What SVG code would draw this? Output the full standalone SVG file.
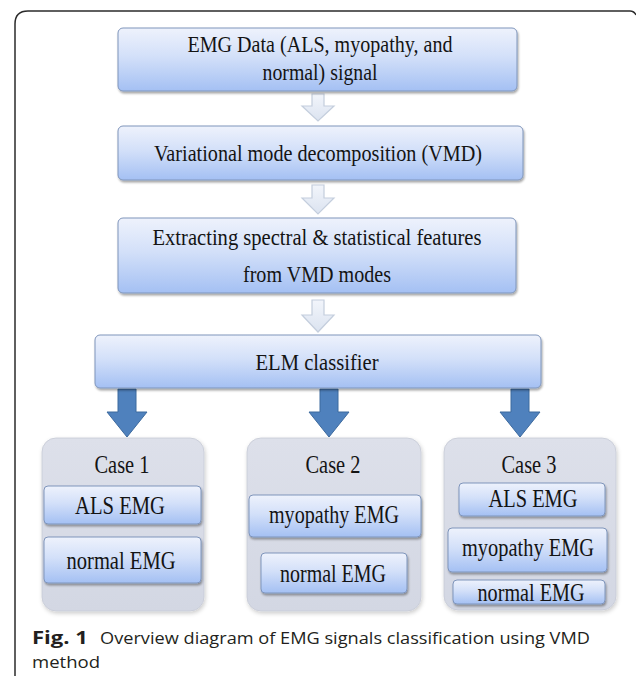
<svg xmlns="http://www.w3.org/2000/svg" width="636" height="676" viewBox="0 0 636 676">
<defs>
  <linearGradient id="gBox" x1="0" y1="0" x2="0" y2="1">
    <stop offset="0" stop-color="#eef2fc"/>
    <stop offset="0.45" stop-color="#d3e0f9"/>
    <stop offset="1" stop-color="#a4c0f3"/>
  </linearGradient>
  <linearGradient id="gArrow" x1="0" y1="0" x2="0" y2="1">
    <stop offset="0" stop-color="#f2f5fb"/>
    <stop offset="1" stop-color="#dbe3f0"/>
  </linearGradient>
  <linearGradient id="gCase" x1="0" y1="0" x2="0" y2="1">
    <stop offset="0" stop-color="#dde0ea"/>
    <stop offset="1" stop-color="#d3d7e3"/>
  </linearGradient>
  <filter id="sh" x="-5%" y="-10%" width="115%" height="135%">
    <feDropShadow dx="1" dy="2" stdDeviation="1.3" flood-color="#000" flood-opacity="0.35"/>
  </filter>
  <filter id="shSoft" x="-5%" y="-5%" width="115%" height="115%">
    <feDropShadow dx="1" dy="2" stdDeviation="2" flood-color="#000" flood-opacity="0.2"/>
  </filter>
</defs>
<style>
  .box { fill: url(#gBox); stroke: #7f95bb; stroke-width: 1; filter: url(#sh); }
  .case { fill: url(#gCase); stroke: #c6cad6; stroke-width: 0.8; filter: url(#shSoft); }
  .t { font-family: "Liberation Serif", "Times New Roman", serif; font-size: 24px; fill: #141414; text-anchor: middle; }
  .s { font-size: 25px; }
  .lt { fill: url(#gArrow); stroke: #c4cedd; stroke-width: 1.2; }
  .bt { fill: #4f81bd; stroke: #3c6a9e; stroke-width: 1; }
  .cap { font-family: "Open Sans", "Noto Sans", sans-serif; font-size: 17px; fill: #231f20; }
  .frame { fill: none; stroke: #2b2b2b; stroke-width: 1.5; }
</style>

<path class="frame" d="M15,676 V24 Q15,11 28,11 H630 Q634,11 636,15"/>

<g id="connectors">
  <path class="lt" d="M312,94 H324 V106 H334 L318,121 L302,106 H312 Z"/>
  <path class="lt" d="M312,185 H324 V198 H334 L318,214 L302,198 H312 Z"/>
  <path class="lt" d="M312,300 H324 V315 H334 L318,332 L302,315 H312 Z"/>
  <path class="bt" d="M118,389 H136 V412 H147 L127,437 L107,412 H118 Z"/>
  <path class="bt" d="M320,389 H338 V412 H349 L329,437 L309,412 H320 Z"/>
  <path class="bt" d="M511,389 H529 V412 H540 L520,437 L500,412 H511 Z"/>
</g>

<g id="node-emg-data">
  <rect class="box" x="118" y="28" width="399" height="63" rx="5"/>
  <text class="t" x="320" y="52" textLength="265" lengthAdjust="spacingAndGlyphs">EMG Data (ALS, myopathy, and</text>
  <text class="t" x="320" y="80" textLength="115" lengthAdjust="spacingAndGlyphs">normal) signal</text>
</g>

<g id="node-vmd">
  <rect class="box" x="118" y="126" width="405" height="54" rx="5"/>
  <text class="t" x="318" y="161" textLength="328" lengthAdjust="spacingAndGlyphs">Variational mode decomposition (VMD)</text>
</g>

<g id="node-features">
  <rect class="box" x="118" y="218" width="398" height="75" rx="5"/>
  <text class="t" x="317" y="245" textLength="329" lengthAdjust="spacingAndGlyphs">Extracting spectral &amp; statistical features</text>
  <text class="t" x="317" y="282" textLength="148" lengthAdjust="spacingAndGlyphs">from VMD modes</text>
</g>

<g id="node-elm">
  <rect class="box" x="95" y="335" width="446" height="53" rx="5"/>
  <text class="t" x="317" y="370" textLength="123" lengthAdjust="spacingAndGlyphs">ELM classifier</text>
</g>

<g id="node-case1">
  <rect class="case" x="42" y="438" width="162" height="173" rx="14"/>
  <text class="t s" x="122" y="473" textLength="55" lengthAdjust="spacingAndGlyphs">Case 1</text>
  <rect class="box" x="44" y="486" width="157" height="38" rx="4"/>
  <text class="t s" x="120" y="514" textLength="90" lengthAdjust="spacingAndGlyphs">ALS EMG</text>
  <rect class="box" x="44" y="537" width="157" height="46" rx="4"/>
  <text class="t s" x="121" y="569" textLength="109" lengthAdjust="spacingAndGlyphs">normal EMG</text>
</g>

<g id="node-case2">
  <rect class="case" x="247" y="438" width="174" height="173" rx="14"/>
  <text class="t s" x="333" y="473" textLength="55" lengthAdjust="spacingAndGlyphs">Case 2</text>
  <rect class="box" x="249" y="495" width="172" height="42" rx="4"/>
  <text class="t s" x="334" y="523" textLength="130" lengthAdjust="spacingAndGlyphs">myopathy EMG</text>
  <rect class="box" x="261" y="553" width="146" height="40" rx="4"/>
  <text class="t s" x="333" y="582" textLength="106" lengthAdjust="spacingAndGlyphs">normal EMG</text>
</g>

<g id="node-case3">
  <rect class="case" x="444" y="438" width="172" height="172" rx="14"/>
  <text class="t s" x="529" y="473" textLength="55" lengthAdjust="spacingAndGlyphs">Case 3</text>
  <rect class="box" x="459" y="483" width="146" height="33" rx="4"/>
  <text class="t s" x="533" y="507" textLength="89" lengthAdjust="spacingAndGlyphs">ALS EMG</text>
  <rect class="box" x="448" y="528" width="159" height="44" rx="4"/>
  <text class="t s" x="528" y="556" textLength="132" lengthAdjust="spacingAndGlyphs">myopathy EMG</text>
  <rect class="box" x="453" y="580" width="152" height="24" rx="4"/>
  <text class="t s" x="531" y="601" textLength="107" lengthAdjust="spacingAndGlyphs">normal EMG</text>
</g>

<g id="caption">
  <text class="cap" x="32" y="644" font-weight="bold" textLength="56" lengthAdjust="spacingAndGlyphs">Fig. 1</text>
  <text class="cap" x="100" y="644" textLength="490" lengthAdjust="spacingAndGlyphs">Overview diagram of EMG signals classification using VMD</text>
  <text class="cap" x="32" y="668" textLength="68" lengthAdjust="spacingAndGlyphs">method</text>
</g>
</svg>
